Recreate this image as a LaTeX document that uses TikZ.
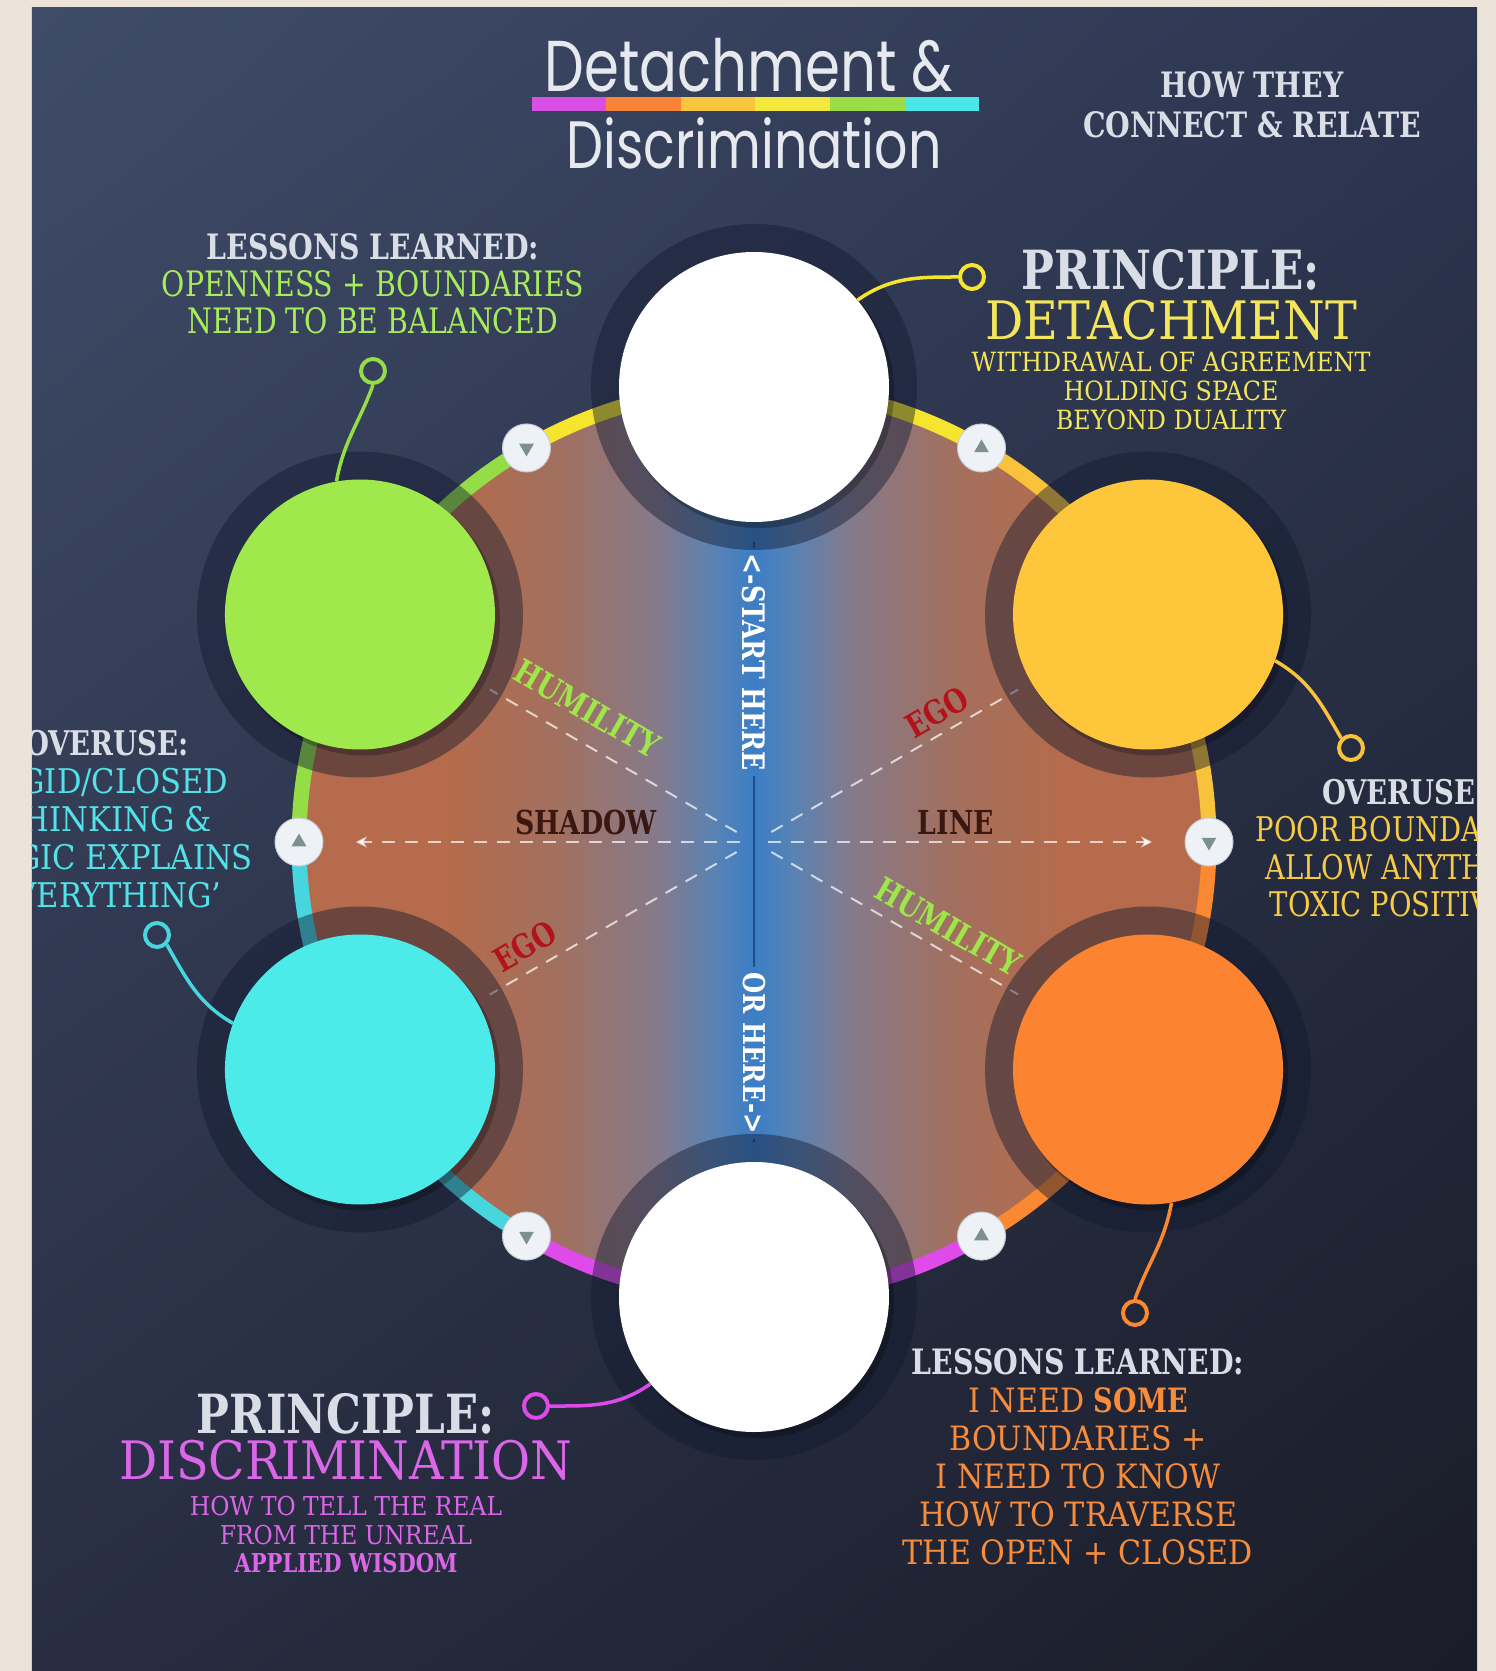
\documentclass[tikz,border=0pt]{standalone}
\usepackage{fontspec}
\setmainfont{DejaVu Serif Condensed}[FakeStretch=0.9]
\newfontfamily\plainfont{DejaVu Serif Condensed}[Ligatures=TeX]
\newfontfamily\titlefont[FakeStretch=0.78]{Poppins}
\usetikzlibrary{arrows.meta,shadings}

\newcommand\fsz[2]{\fontsize{#1}{#2}\selectfont}

\definecolor{cream}{HTML}{ECE4D8}
\definecolor{bgul}{HTML}{3F4C69}
\definecolor{bgur}{HTML}{2D3651}
\definecolor{bgll}{HTML}{282D42}
\definecolor{bglr}{HTML}{1A1C27}
\definecolor{titlec}{HTML}{E6E9EE}
\definecolor{barmag}{HTML}{D94FE3}
\definecolor{barorg}{HTML}{F98438}
\definecolor{bargold}{HTML}{F9C43E}
\definecolor{baryel}{HTML}{F3E83C}
\definecolor{bargrn}{HTML}{9BDD49}
\definecolor{barcyn}{HTML}{4BE6E8}
\definecolor{brn}{HTML}{B56B4C}
\definecolor{brnb}{HTML}{A2705F}
\definecolor{mauve}{HTML}{867A8A}
\definecolor{blu}{HTML}{5683B6}
\definecolor{bluc}{HTML}{3B7EC6}
\definecolor{haloc}{HTML}{121A30}
\definecolor{vlinec}{HTML}{1E4C88}
\definecolor{btnc}{HTML}{EEF2F6}
\definecolor{btnedge}{HTML}{C5CED5}
\definecolor{tric}{HTML}{7E8F90}
\definecolor{circyel}{HTML}{FDC63B}
\definecolor{circorg}{HTML}{FC8431}
\definecolor{circcyn}{HTML}{4CEBEA}
\definecolor{circgrn}{HTML}{A0E94D}
\definecolor{bandyel}{HTML}{F6E52E}
\definecolor{bandgold}{HTML}{F8C23A}
\definecolor{bandorg}{HTML}{FB8931}
\definecolor{bandmag}{HTML}{DF4BEA}
\definecolor{bandcyn}{HTML}{47D6DE}
\definecolor{bandgrn}{HTML}{95DD46}
\definecolor{greytxt}{HTML}{D9DDE5}
\definecolor{grntxt}{HTML}{A8EC5C}
\definecolor{yeltxt}{HTML}{F3E65C}
\definecolor{cyntxt}{HTML}{52E2E8}
\definecolor{goldtxt}{HTML}{F6CB45}
\definecolor{magtxt}{HTML}{DA66E8}
\definecolor{orgtxt}{HTML}{F78D3C}
\definecolor{egored}{HTML}{B3121A}
\definecolor{humgrn}{HTML}{9FE64A}
\definecolor{shadtxt}{HTML}{3B1712}

\pgfdeclarehorizontalshading{diskshade}{100bp}{color(0bp)=(brn); color(33bp)=(brn);
  color(39bp)=(brnb); color(44.5bp)=(mauve); color(48bp)=(blu); color(50bp)=(bluc);
  color(52bp)=(blu); color(55.5bp)=(mauve); color(61bp)=(brnb); color(67bp)=(brn); color(100bp)=(brn)}

\begin{document}
\begin{tikzpicture}[x=1pt,y=1pt,
    txt/.style={align=center, inner sep=0pt},
    halo/.style={fill=haloc, fill opacity=0.45},
    disc/.style={circle, minimum size=270pt, inner sep=0pt},
    btn/.style={circle, fill=btnc, draw=btnedge, line width=1pt, minimum size=48pt, inner sep=0pt},
    band/.style={line width=15pt},
    dashline/.style={draw=white, draw opacity=0.7, line width=2pt, dash pattern=on 13pt off 10pt},
    ringdot/.style={circle, draw, line width=4pt, minimum size=24pt, inner sep=0pt},
    lead/.style={line width=3.5pt},
    lbl/.style={font=\bfseries\fsz{33}{33}, inner sep=0pt}]
    \useasboundingbox (-754,-829) rectangle (742,842);
    \fill[cream] (-754,-829) rectangle (742,842);
    \begin{scope}
        \clip (-722,-829) rectangle (723,834);
        \shade[upper left=bgul, upper right=bgur, lower left=bgll, lower right=bglr]
            (-722,-829) rectangle (723,834);

        % title
        \node[txt, font=\titlefont\fsz{72}{72}, text=titlec] (ttop) at (-5,777) {Detachment \&};
        \foreach \c [count=\i from 0] in {barmag,barorg,bargold,baryel,bargrn,barcyn}
            \fill[\c] (-222+74.5*\i,731) rectangle ++(74.5,14);
        \node[txt, font=\titlefont\fsz{67}{67}, text=titlec] (tbot) at (0,699) {Discrimination};
        \node[txt, font=\bfseries\fsz{35}{40}, text=greytxt] (howto) at (498,737)
            {HOW THEY\\CONNECT \& RELATE};

        % wheel
        \shade[shading=diskshade] (0,0) circle[radius=448];
        \foreach \a/\c in {60/bandyel,0/bandgold,-60/bandorg,-120/bandmag,-180/bandcyn,120/bandgrn}
            \draw[band,\c] (\a:455) arc[start angle=\a, delta angle=60, radius=455];

        \coordinate (o) at (0,0);
        \coordinate (vt) at (0,300);
        \coordinate (vb) at (0,-300);
        \coordinate (hl) at (-398,0);
        \coordinate (hr) at (398,0);
        \foreach \a in {30,150,210,330} {
            \coordinate (d\a) at (\a:305);
            \draw[dashline, shorten <=20pt] (o) -- (d\a);
        }
        \draw[dashline, -{Stealth[length=11pt,width=11pt]}, shorten <=14pt] (o) -- (hl);
        \draw[dashline, -{Stealth[length=11pt,width=11pt]}, shorten <=14pt] (o) -- (hr);

        \node[lbl, text=white, rotate=-90, font=\bfseries\fsz{31}{31}, inner sep=5pt] (start) at (0,180) {<-START HERE};
        \node[lbl, text=white, rotate=-90, font=\bfseries\fsz{30}{30}, inner sep=5pt] (orhere) at (0,-211) {OR HERE->};
        \draw[vlinec, line width=2pt] (vt) -- (start.west);
        \draw[vlinec, line width=2pt] (start.east) -- (orhere.west);
        \draw[vlinec, line width=2pt] (orhere.east) -- (vb);

        \foreach \a in {90,30,-30,-90,-150,150}
            \fill[halo] (\a:455) circle[radius=163];

        \foreach \a/\r in {120/180,60/0,0/180,-60/0,-120/180,180/0} {
            \node[btn] (b\a) at (\a:455) {};
            \fill[tric, shift={(\a:455)}, rotate=\r] (90:8.5) -- (210:8.5) -- (330:8.5) -- cycle;
        }

        \node[lbl, text=humgrn, rotate=-30] (hum1) at (-167,133) {HUMILITY};
        \node[lbl, text=egored, rotate=30] (ego1) at (183,130) {EGO};
        \node[lbl, text=shadtxt] (shadow) at (-168,20) {SHADOW};
        \node[lbl, text=shadtxt] (line) at (202,20) {LINE};
        \node[lbl, text=egored, rotate=30] (ego2) at (-229,-104) {EGO};
        \node[lbl, text=humgrn, rotate=-30] (hum2) at (194,-85) {HUMILITY};

        % circles
        \foreach \a in {90,30,-30,-90,-150,150}
            \fill[black, fill opacity=0.25, shift={(4,-5)}] (\a:455) circle[radius=136];
        \foreach \a/\n/\c in {90/ctop/white,30/cyel/circyel,-30/corg/circorg,
                              -90/cbot/white,-150/ccyn/circcyn,150/cgrn/circgrn}
            \node[disc, fill=\c] (\n) at (\a:455) {};

        % leads
        \node[ringdot, draw=bandyel] (pdet) at (218,565) {};
        \node[ringdot, draw=bandgrn] (llgrn) at (-381,471) {};
        \node[ringdot, draw=bandcyn] (ovcyn) at (-597,-93) {};
        \node[ringdot, draw=bandgold] (ovgold) at (597,94) {};
        \node[ringdot, draw=bandmag] (pdis) at (-218,-564) {};
        \node[ringdot, draw=bandorg] (llorg) at (381,-471) {};
        \draw[lead, bandyel] (pdet.west) to[out=180, in=35] (ctop.40);
        \draw[lead, bandgrn] (llgrn.south) to[out=-110, in=80] (cgrn.100);
        \draw[lead, bandcyn] (ovcyn.south east) to[out=-60, in=150] (ccyn.160);
        \draw[lead, bandgold] (ovgold.north west) to[out=120, in=-30] (cyel.-20);
        \draw[lead, bandmag] (pdis.east) to[out=0, in=215] (cbot.220);
        \draw[lead, bandorg] (llorg.north) to[out=70, in=-100] (corg.-80);

        % texts
        \node[txt, font=\fsz{35}{37}, text=grntxt] (lessTL) at (-381,558)
            {{\bfseries\color{greytxt}LESSONS LEARNED:}\\OPENNESS + BOUNDARIES\\NEED TO BE BALANCED};
        \node[txt, font=\plainfont\fsz{53}{50.6}, text=yeltxt] (prDet) at (417,547)
            {{\rmfamily\bfseries\fsz{54}{50.6}\color{greytxt}PRINCIPLE:}\\DETACHMENT};
        \node[txt, font=\plainfont\fsz{26.5}{29}, text=yeltxt] (detSub) at (417,451)
            {WITHDRAWAL OF AGREEMENT\\HOLDING SPACE\\BEYOND DUALITY};
        \node[txt, font=\plainfont\fsz{34}{38}, text=cyntxt] (overL) at (-647,23)
            {{\rmfamily\bfseries\color{greytxt}OVERUSE:}\\RIGID/CLOSED\\THINKING \&\\`LOGIC EXPLAINS\\EVERYTHING'};
        \node[txt, font=\fsz{34}{37.5}, text=goldtxt] (overR) at (650,-6)
            {{\bfseries\color{greytxt}OVERUSE:}\\POOR BOUNDARIES\\ALLOW ANYTHING\\TOXIC POSITIVITY};
        \node[txt, font=\plainfont\fsz{53}{45.6}, text=magtxt] (prDis) at (-408,-595)
            {{\rmfamily\bfseries\fsz{54}{45.6}\color{greytxt}PRINCIPLE:}\\DISCRIMINATION};
        \node[txt, font=\plainfont\fsz{26}{28.5}, text=magtxt] (disSub) at (-408,-693)
            {HOW TO TELL THE REAL\\FROM THE UNREAL\\{\rmfamily\bfseries APPLIED WISDOM}};
        \node[txt, font=\plainfont\fsz{33.5}{38}, text=orgtxt] (lessBR) at (324,-615)
            {{\rmfamily\bfseries\fsz{35}{38}\color{greytxt}LESSONS LEARNED:}\\I NEED {\rmfamily\bfseries SOME}\\BOUNDARIES +\\I NEED TO KNOW\\HOW TO TRAVERSE\\THE OPEN + CLOSED};
    \end{scope}
\end{tikzpicture}
\end{document}
